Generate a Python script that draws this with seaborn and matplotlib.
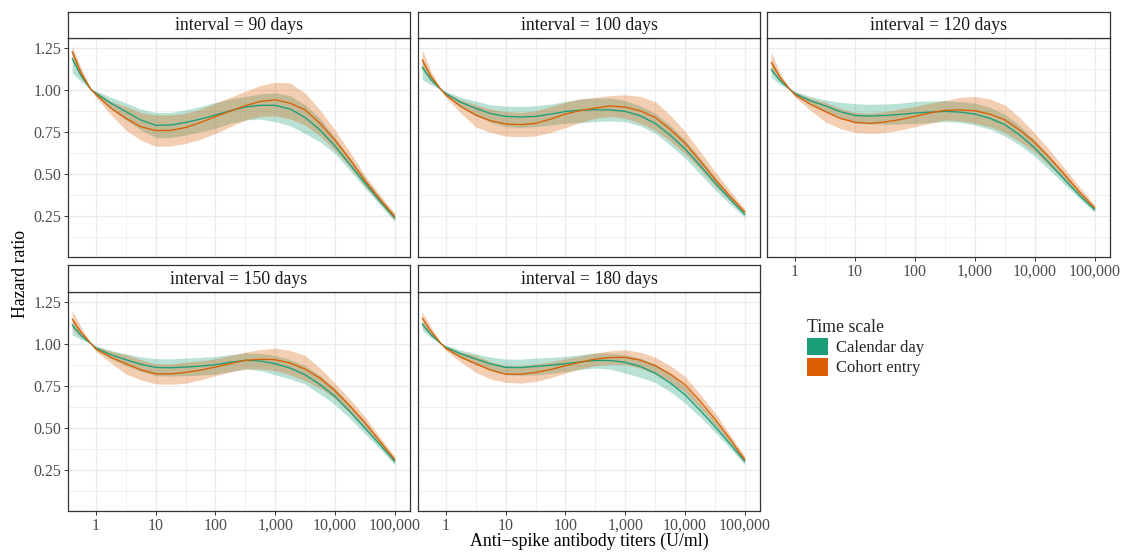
import numpy as np
import pandas as pd
import matplotlib
matplotlib.use("Agg")
import matplotlib.pyplot as plt
import seaborn as sns
from matplotlib.patches import Patch
from matplotlib.ticker import FixedLocator, NullFormatter, FixedFormatter

# ---------------- data ----------------
titers = [0.4, 0.56, 0.83, 1, 1.78, 3.16, 5.62, 10, 17.8, 31.6, 56.2, 100, 178, 316,
          562, 1000, 1778, 3162, 5623, 10000, 17783, 31623, 56234, 100000]
intervals = ["90", "100", "120", "150", "180"]
scales = ["Calendar day", "Cohort entry"]

# interval = 90 days
cal_est_90 = [1.186, 1.085, 1.0, 0.978, 0.92, 0.87, 0.82, 0.788, 0.79, 0.805, 0.825, 0.85, 0.875, 0.897, 0.907, 0.907, 0.885, 0.835, 0.76, 0.665, 0.555, 0.444, 0.338, 0.236]
cal_lo_90  = [1.10, 1.05, 1.0, 0.963, 0.885, 0.82, 0.76, 0.715, 0.715, 0.73, 0.75, 0.77, 0.80, 0.82, 0.825, 0.81, 0.785, 0.74, 0.69, 0.62, 0.52, 0.415, 0.315, 0.215]
cal_hi_90  = [1.24, 1.12, 1.0, 0.993, 0.955, 0.922, 0.885, 0.865, 0.865, 0.88, 0.90, 0.925, 0.945, 0.96, 0.975, 0.98, 0.965, 0.91, 0.83, 0.715, 0.595, 0.475, 0.36, 0.255]
coh_est_90 = [1.226, 1.10, 1.0, 0.972, 0.89, 0.83, 0.78, 0.757, 0.758, 0.775, 0.805, 0.84, 0.873, 0.905, 0.93, 0.94, 0.92, 0.88, 0.80, 0.70, 0.585, 0.46, 0.35, 0.244]
coh_lo_90  = [1.17, 1.07, 1.0, 0.955, 0.85, 0.76, 0.70, 0.663, 0.665, 0.68, 0.705, 0.74, 0.78, 0.82, 0.84, 0.845, 0.825, 0.79, 0.725, 0.64, 0.54, 0.43, 0.325, 0.225]
coh_hi_90  = [1.26, 1.13, 1.0, 0.99, 0.93, 0.90, 0.865, 0.85, 0.85, 0.86, 0.885, 0.92, 0.955, 0.99, 1.025, 1.044, 1.04, 0.98, 0.88, 0.76, 0.63, 0.49, 0.375, 0.265]

# interval = 100 days
cal_est_100 = [1.135, 1.06, 1.0, 0.976, 0.925, 0.889, 0.858, 0.841, 0.838, 0.841, 0.855, 0.87, 0.878, 0.881, 0.88, 0.871, 0.845, 0.80, 0.73, 0.648, 0.55, 0.447, 0.35, 0.258]
cal_lo_100  = [1.06, 1.03, 1.0, 0.962, 0.895, 0.845, 0.805, 0.78, 0.775, 0.78, 0.79, 0.80, 0.805, 0.81, 0.815, 0.81, 0.785, 0.742, 0.67, 0.593, 0.50, 0.405, 0.32, 0.24]
cal_hi_100  = [1.19, 1.09, 1.0, 0.99, 0.955, 0.932, 0.91, 0.903, 0.90, 0.905, 0.915, 0.93, 0.945, 0.95, 0.95, 0.935, 0.905, 0.86, 0.79, 0.70, 0.595, 0.48, 0.375, 0.275]
coh_est_100 = [1.178, 1.08, 1.0, 0.968, 0.90, 0.849, 0.815, 0.796, 0.792, 0.80, 0.825, 0.855, 0.876, 0.891, 0.903, 0.897, 0.875, 0.835, 0.765, 0.683, 0.578, 0.468, 0.368, 0.273]
coh_lo_100  = [1.12, 1.05, 1.0, 0.953, 0.86, 0.778, 0.745, 0.724, 0.72, 0.725, 0.745, 0.775, 0.805, 0.83, 0.84, 0.83, 0.80, 0.76, 0.695, 0.62, 0.53, 0.43, 0.34, 0.255]
coh_hi_100  = [1.24, 1.11, 1.0, 0.983, 0.94, 0.91, 0.885, 0.87, 0.865, 0.875, 0.90, 0.925, 0.945, 0.955, 0.965, 0.97, 0.96, 0.93, 0.85, 0.752, 0.635, 0.514, 0.40, 0.29]

# interval = 120 days
cal_est_120 = [1.119, 1.055, 1.0, 0.976, 0.935, 0.905, 0.87, 0.847, 0.843, 0.847, 0.853, 0.861, 0.867, 0.871, 0.867, 0.855, 0.83, 0.792, 0.73, 0.653, 0.56, 0.464, 0.37, 0.286]
cal_lo_120  = [1.075, 1.03, 1.0, 0.963, 0.91, 0.87, 0.83, 0.80, 0.795, 0.795, 0.795, 0.80, 0.805, 0.81, 0.805, 0.79, 0.765, 0.725, 0.67, 0.603, 0.52, 0.435, 0.35, 0.27]
cal_hi_120  = [1.18, 1.08, 1.0, 0.99, 0.96, 0.94, 0.925, 0.917, 0.913, 0.915, 0.92, 0.93, 0.933, 0.935, 0.93, 0.92, 0.895, 0.855, 0.785, 0.70, 0.60, 0.495, 0.395, 0.305]
coh_est_120 = [1.163, 1.075, 1.0, 0.97, 0.915, 0.871, 0.83, 0.806, 0.80, 0.808, 0.822, 0.841, 0.862, 0.877, 0.88, 0.875, 0.855, 0.821, 0.76, 0.686, 0.595, 0.494, 0.39, 0.296]
coh_lo_120  = [1.11, 1.05, 1.0, 0.955, 0.88, 0.81, 0.77, 0.746, 0.74, 0.745, 0.76, 0.78, 0.80, 0.82, 0.815, 0.80, 0.78, 0.745, 0.69, 0.63, 0.545, 0.46, 0.365, 0.28]
coh_hi_120  = [1.228, 1.10, 1.0, 0.985, 0.95, 0.925, 0.89, 0.865, 0.86, 0.87, 0.885, 0.90, 0.92, 0.935, 0.955, 0.96, 0.945, 0.91, 0.835, 0.742, 0.64, 0.53, 0.42, 0.315]

# interval = 150 days
cal_est_150 = [1.111, 1.05, 1.0, 0.974, 0.935, 0.905, 0.878, 0.859, 0.857, 0.861, 0.867, 0.875, 0.89, 0.901, 0.897, 0.881, 0.855, 0.815, 0.757, 0.686, 0.595, 0.498, 0.40, 0.30]
cal_lo_150  = [1.054, 1.025, 1.0, 0.962, 0.91, 0.87, 0.835, 0.81, 0.807, 0.81, 0.813, 0.82, 0.835, 0.85, 0.84, 0.815, 0.79, 0.76, 0.70, 0.637, 0.555, 0.465, 0.375, 0.28]
cal_hi_150  = [1.15, 1.075, 1.0, 0.987, 0.96, 0.94, 0.922, 0.911, 0.91, 0.915, 0.918, 0.925, 0.935, 0.945, 0.942, 0.93, 0.905, 0.87, 0.81, 0.735, 0.635, 0.53, 0.425, 0.32]
coh_est_150 = [1.147, 1.07, 1.0, 0.968, 0.92, 0.881, 0.845, 0.821, 0.82, 0.829, 0.843, 0.861, 0.882, 0.901, 0.907, 0.905, 0.885, 0.849, 0.795, 0.72, 0.63, 0.532, 0.42, 0.31]
coh_lo_150  = [1.09, 1.04, 1.0, 0.955, 0.885, 0.82, 0.785, 0.762, 0.758, 0.765, 0.785, 0.81, 0.832, 0.85, 0.85, 0.84, 0.815, 0.78, 0.735, 0.675, 0.59, 0.50, 0.395, 0.29]
coh_hi_150  = [1.198, 1.10, 1.0, 0.982, 0.955, 0.935, 0.905, 0.88, 0.88, 0.89, 0.898, 0.91, 0.93, 0.95, 0.965, 0.974, 0.96, 0.93, 0.855, 0.765, 0.67, 0.565, 0.445, 0.33]

# interval = 180 days
cal_est_180 = [1.117, 1.055, 1.0, 0.978, 0.94, 0.909, 0.88, 0.859, 0.858, 0.865, 0.872, 0.881, 0.892, 0.901, 0.90, 0.889, 0.865, 0.825, 0.767, 0.696, 0.605, 0.508, 0.405, 0.30]
cal_lo_180  = [1.08, 1.035, 1.0, 0.966, 0.915, 0.875, 0.84, 0.815, 0.812, 0.815, 0.823, 0.835, 0.847, 0.855, 0.848, 0.825, 0.80, 0.77, 0.715, 0.647, 0.565, 0.475, 0.38, 0.28]
cal_hi_180  = [1.14, 1.07, 1.0, 0.99, 0.962, 0.94, 0.92, 0.909, 0.908, 0.915, 0.918, 0.925, 0.935, 0.945, 0.945, 0.935, 0.915, 0.88, 0.82, 0.745, 0.645, 0.54, 0.43, 0.32]
coh_est_180 = [1.153, 1.075, 1.0, 0.972, 0.92, 0.881, 0.843, 0.819, 0.818, 0.829, 0.846, 0.869, 0.89, 0.909, 0.918, 0.919, 0.902, 0.869, 0.82, 0.756, 0.66, 0.552, 0.435, 0.31]
coh_lo_180  = [1.10, 1.045, 1.0, 0.958, 0.89, 0.83, 0.79, 0.77, 0.765, 0.775, 0.797, 0.825, 0.85, 0.87, 0.877, 0.875, 0.855, 0.82, 0.77, 0.71, 0.62, 0.52, 0.41, 0.29]
coh_hi_180  = [1.19, 1.10, 1.0, 0.986, 0.95, 0.93, 0.893, 0.87, 0.87, 0.88, 0.892, 0.91, 0.928, 0.945, 0.958, 0.964, 0.95, 0.92, 0.87, 0.806, 0.70, 0.59, 0.46, 0.33]

x_ticks = [1, 10, 100, 1000, 10000, 100000]
x_tick_labels = ["1", "10", "100", "1,000", "10,000", "100,000"]
y_ticks = [0.25, 0.50, 0.75, 1.00, 1.25]
y_tick_labels = ["0.25", "0.50", "0.75", "1.00", "1.25"]

series = {
    ("90", "Calendar day"): (cal_est_90, cal_lo_90, cal_hi_90),
    ("90", "Cohort entry"): (coh_est_90, coh_lo_90, coh_hi_90),
    ("100", "Calendar day"): (cal_est_100, cal_lo_100, cal_hi_100),
    ("100", "Cohort entry"): (coh_est_100, coh_lo_100, coh_hi_100),
    ("120", "Calendar day"): (cal_est_120, cal_lo_120, cal_hi_120),
    ("120", "Cohort entry"): (coh_est_120, coh_lo_120, coh_hi_120),
    ("150", "Calendar day"): (cal_est_150, cal_lo_150, cal_hi_150),
    ("150", "Cohort entry"): (coh_est_150, coh_lo_150, coh_hi_150),
    ("180", "Calendar day"): (cal_est_180, cal_lo_180, cal_hi_180),
    ("180", "Cohort entry"): (coh_est_180, coh_lo_180, coh_hi_180),
}

rows = []
for (iv, sc), (est, lo, hi) in series.items():
    for t, e, l, h in zip(titers, est, lo, hi):
        rows.append(dict(interval=iv, scale=sc, titer=t, hr=e, lo=l, hi=h))
df = pd.DataFrame(rows)

# ---------------- style ----------------
sns.set_theme(style="white")
plt.rcParams['font.family'] = ['Liberation Serif', 'DejaVu Serif']
plt.rcParams['axes.unicode_minus'] = True

palette = {"Calendar day": "#1B9E77", "Cohort entry": "#D95F02"}

W, H = 1127, 553
fig = plt.figure(figsize=(W / 100, H / 100), dpi=100)

cols = [(68, 410), (418, 760), (767, 1110)]
rowpos = [(12, 38, 257), (265, 292, 511)]
layout = [(0, 0), (0, 1), (0, 2), (1, 0), (1, 1)]

xmin, xmax = 10 ** -0.468, 10 ** 5.256
ymin, ymax = 0.004, 1.308
minor_x = [10 ** (k + 0.5) for k in range(0, 5)]
minor_y = [0.125, 0.375, 0.625, 0.875, 1.125]

for iv, (r, c) in zip(intervals, layout):
    x0, x1 = cols[c]
    ys, yt, yb = rowpos[r]
    ax = fig.add_axes([x0 / W, 1 - yb / H, (x1 - x0) / W, (yb - yt) / H])
    ax.set_xscale('log')
    sub = df[df.interval == iv]
    for sc in scales:
        s = sub[sub.scale == sc]
        ax.fill_between(s.titer, s.lo, s.hi, color=palette[sc], alpha=0.3, lw=0, zorder=2)
    sns.lineplot(data=sub, x="titer", y="hr", hue="scale", hue_order=scales,
                 palette=palette, ax=ax, legend=False, lw=0.95, estimator=None, zorder=3)
    ax.set_xlim(xmin, xmax)
    ax.set_ylim(ymin, ymax)
    ax.xaxis.set_major_locator(FixedLocator(x_ticks))
    ax.xaxis.set_minor_locator(FixedLocator(minor_x))
    ax.yaxis.set_major_locator(FixedLocator(y_ticks))
    ax.yaxis.set_minor_locator(FixedLocator(minor_y))
    ax.xaxis.set_minor_formatter(NullFormatter())
    ax.yaxis.set_minor_formatter(NullFormatter())
    ax.grid(True, which='major', color='#EBEBEB', lw=1.0, zorder=0)
    ax.grid(True, which='minor', color='#EBEBEB', lw=0.55, zorder=0)
    ax.set_axisbelow(True)
    for sp in ax.spines.values():
        sp.set_color('#333333')
        sp.set_linewidth(0.9)
        sp.set_zorder(5)
    ax.tick_params(which='major', direction='out', length=2.75, width=0.7, color='#333333',
                   labelsize=11.5, labelcolor='#4D4D4D', pad=2.2)
    ax.tick_params(which='minor', length=0)
    show_x = (r == 1) or (c == 2)
    show_y = (c == 0)
    if show_x:
        ax.xaxis.set_major_formatter(FixedFormatter(x_tick_labels))
        ax.tick_params(axis='x', which='major', bottom=True)
    else:
        ax.xaxis.set_major_formatter(NullFormatter())
        ax.tick_params(axis='x', which='major', bottom=False)
    if show_y:
        ax.yaxis.set_major_formatter(FixedFormatter(y_tick_labels))
        ax.tick_params(axis='y', which='major', left=True)
    else:
        ax.yaxis.set_major_formatter(NullFormatter())
        ax.tick_params(axis='y', which='major', left=False)
    ax.set_xlabel("")
    ax.set_ylabel("")

    # strip
    st = fig.add_axes([x0 / W, 1 - yt / H, (x1 - x0) / W, (yt - ys) / H])
    st.set_facecolor('white')
    st.set_xticks([])
    st.set_yticks([])
    for sp in st.spines.values():
        sp.set_color('#333333')
        sp.set_linewidth(0.9)
    st.text(0.5, 0.47, f"interval = {iv} days", ha='center', va='center',
            fontsize=12.8, color='#1A1A1A', transform=st.transAxes)

fig.text(589 / W, 1 - 546 / H, "Anti\u2212spike antibody titers (U/ml)", ha='center', va='baseline',
         fontsize=12.8, color='black')
fig.text(21 / W, 1 - 274 / H, "Hazard ratio", ha='center', va='center', rotation=90,
         fontsize=12.8, color='black')

handles = [Patch(facecolor=palette[s], edgecolor='none') for s in scales]
leg = fig.legend(handles, scales, title="Time scale", loc='upper left',
                 bbox_to_anchor=(800 / W, 1 - 312 / H), frameon=False,
                 fontsize=12, title_fontsize=12.8, handlelength=1.3, handleheight=1.25,
                 labelspacing=0.12, handletextpad=0.45, borderaxespad=0)
leg._legend_box.align = "left"

fig.savefig("out.png", dpi=100)
